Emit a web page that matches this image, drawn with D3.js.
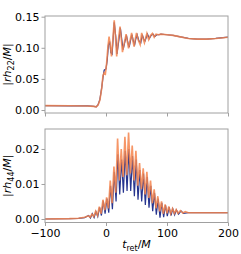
<!DOCTYPE html>
<html>
<head>
<meta charset="utf-8">
<script src="https://cdn.jsdelivr.net/npm/d3@7"></script>
<style>
  body { margin: 0; background: #fff; }
  text { font-family: "DejaVu Sans", sans-serif; }
</style>
</head>
<body>
<div id="diagram"></div>
<script>
// x ticks shared by both panels
const xTicks = [-100, 0, 100, 200];
const yTicksTop = [0.00, 0.05, 0.10, 0.15];
const yTicksBottom = [0.00, 0.01, 0.02];

// |r h22 / M| : [t_ret/M, value]
const h22Orange = [
  [-100, 0.0070], [-60, 0.0068], [-30, 0.0065], [-20, 0.0058], [-16, 0.0050],
  [-13, 0.0080], [-10, 0.0160], [-7, 0.0350], [-5, 0.0550], [-3, 0.0600],
  [-1, 0.0580], [1, 0.0750], [3, 0.1000], [5, 0.1180], [7, 0.1050],
  [9, 0.0860], [11, 0.1100], [13.5, 0.1440], [15.5, 0.1180], [17.5, 0.0860],
  [20, 0.1100], [23, 0.1340], [25, 0.1150], [27, 0.0930], [30, 0.1080],
  [33, 0.1220], [35, 0.1100], [37, 0.0990], [39.5, 0.1120], [42, 0.1240],
  [44, 0.1120], [46, 0.1020], [48, 0.1140], [50, 0.1240], [53, 0.1120],
  [56, 0.1050], [58.5, 0.1240], [61, 0.1140], [63, 0.1080], [65, 0.1160],
  [67, 0.1230], [70, 0.1130], [73, 0.1200], [76, 0.1230], [79, 0.1170],
  [82, 0.1220], [86, 0.1210], [90, 0.1220], [100, 0.1210], [110, 0.1200],
  [120, 0.1180], [135, 0.1150], [150, 0.1140], [165, 0.1140], [180, 0.1150],
  [200, 0.1170]
];
const h22Blue = [
  [-100, 0.0070], [-60, 0.0068], [-30, 0.0065], [-20, 0.0058], [-16, 0.0052],
  [-13, 0.0085], [-10, 0.0170], [-7, 0.0360], [-5, 0.0520], [-3, 0.0640],
  [0, 0.0660], [2, 0.0800], [4, 0.1050], [6, 0.1100], [8, 0.0920],
  [10, 0.0900], [13.5, 0.1410], [16, 0.1180], [18, 0.0900], [21, 0.1120],
  [23.5, 0.1320], [26, 0.1120], [28, 0.0970], [31, 0.1100], [33.5, 0.1200],
  [36, 0.1080], [38, 0.1010], [40.5, 0.1130], [42.5, 0.1210], [45, 0.1100],
  [47, 0.1050], [49, 0.1150], [51, 0.1210], [54, 0.1110], [57, 0.1080],
  [59.5, 0.1210], [62, 0.1130], [64, 0.1110], [66, 0.1170], [68, 0.1220],
  [71, 0.1150], [74, 0.1200], [77, 0.1220], [80, 0.1180], [83, 0.1210],
  [87, 0.1210], [90, 0.1220], [100, 0.1210], [110, 0.1200], [120, 0.1180],
  [135, 0.1150], [150, 0.1140], [165, 0.1140], [180, 0.1150], [200, 0.1170]
];

// |r h44 / M|
const h44Orange = [
  [-100, 0.0000], [-60, 0.0001], [-45, 0.0002], [-35, 0.0005], [-29, 0.0009],
  [-26, 0.0005], [-23, 0.0014], [-20, 0.0007], [-17, 0.0022], [-14, 0.0010],
  [-11, 0.0035], [-8, 0.0015], [-5, 0.0055], [-2, 0.0025], [1, 0.0062],
  [4, 0.0030], [7, 0.0110], [10, 0.0045], [13, 0.0150], [16, 0.0075],
  [19, 0.0230], [22, 0.0110], [25, 0.0200], [28, 0.0120], [31, 0.0235],
  [34, 0.0125], [37, 0.0247], [40, 0.0130], [43, 0.0210], [46, 0.0110],
  [49, 0.0195], [52, 0.0095], [55, 0.0160], [58, 0.0085], [61, 0.0145],
  [64, 0.0070], [67, 0.0135], [70, 0.0060], [73, 0.0110], [76, 0.0045],
  [79, 0.0085], [82, 0.0030], [85, 0.0065], [88, 0.0022], [91, 0.0050],
  [94, 0.0015], [97, 0.0042], [100, 0.0016], [103, 0.0036], [106, 0.0015],
  [109, 0.0030], [112, 0.0016], [115, 0.0027], [118, 0.0016], [122, 0.0024],
  [126, 0.0017], [130, 0.0021], [135, 0.0018], [150, 0.0018], [200, 0.0018]
];
const h44Blue = [
  [-100, 0.0000], [-60, 0.0001], [-45, 0.0002], [-35, 0.0004], [-28.5, 0.0010],
  [-25.5, 0.0003], [-22.5, 0.0015], [-19.5, 0.0004], [-16.5, 0.0021], [-13.5, 0.0007],
  [-10.5, 0.0033], [-7.5, 0.0010], [-4.5, 0.0052], [-1.5, 0.0015], [1.5, 0.0058],
  [4.5, 0.0018], [7.5, 0.0095], [10.5, 0.0028], [13.5, 0.0135], [16.5, 0.0050],
  [19.5, 0.0185], [22.5, 0.0070], [25.5, 0.0170], [28.5, 0.0075], [31.5, 0.0195],
  [34.5, 0.0080], [37.5, 0.0200], [40.5, 0.0080], [43.5, 0.0180], [46.5, 0.0065],
  [49.5, 0.0170], [52.5, 0.0055], [55.5, 0.0140], [58.5, 0.0050], [61.5, 0.0130],
  [64.5, 0.0040], [67.5, 0.0120], [70.5, 0.0032], [73.5, 0.0095], [76.5, 0.0022],
  [79.5, 0.0075], [82.5, 0.0012], [85.5, 0.0058], [88.5, 0.0004], [91.5, 0.0046],
  [94.5, 0.0005], [97.5, 0.0040], [100.5, 0.0008], [103.5, 0.0034], [106.5, 0.0010],
  [109.5, 0.0029], [112.5, 0.0012], [115.5, 0.0026], [119, 0.0014], [123, 0.0023],
  [127, 0.0016], [135, 0.0018], [150, 0.0018], [200, 0.0018]
];

const blue = "#27358f";
const orange = "#f4844c";
const spine = "#a0a0a0";

var svg = d3.select("#diagram").append("svg")
  .attr("width", 241)
  .attr("height", 254);

var x = d3.scaleLinear()
  .domain([-100, 200])
  .range([45, 228]);

function panel(yDomain, yRange, ticks, fmt, blueData, orangeData, showX, labelSub) {
  var y = d3.scaleLinear().domain(yDomain).range(yRange);
  var g = svg.append("g");

  var line = d3.line()
    .x(function(d) { return x(d[0]); })
    .y(function(d) { return y(d[1]); });

  g.append("path")
    .datum(blueData)
    .attr("fill", "none")
    .attr("stroke", blue)
    .attr("stroke-width", 1.2)
    .attr("d", line);

  g.append("path")
    .datum(orangeData)
    .attr("fill", "none")
    .attr("stroke", orange)
    .attr("stroke-opacity", 0.85)
    .attr("stroke-width", 1.6)
    .attr("d", line);

  // frame
  g.append("rect")
    .attr("x", 45).attr("y", yRange[1])
    .attr("width", 183).attr("height", yRange[0] - yRange[1])
    .attr("fill", "none")
    .attr("stroke", spine)
    .attr("stroke-width", 1);

  var ax = g.append("g")
    .attr("transform", "translate(45,0)")
    .call(d3.axisLeft(y).tickValues(ticks).tickFormat(d3.format(fmt)).tickSize(3.5).tickPadding(2));
  ax.select(".domain").remove();
  ax.selectAll("line").attr("stroke", spine);
  ax.selectAll("text").attr("font-size", 11).attr("fill", "#000")
    .attr("font-family", "DejaVu Sans");

  var bx = g.append("g")
    .attr("transform", "translate(0," + yRange[0] + ")")
    .call(d3.axisBottom(x).tickValues(xTicks).tickSize(3.5).tickPadding(3)
      .tickFormat(showX ? function(d) { return d < 0 ? "\u2212" + Math.abs(d) : d; } : ""));
  bx.select(".domain").remove();
  bx.selectAll("line").attr("stroke", spine);
  bx.selectAll("text").attr("font-size", 11).attr("fill", "#000")
    .attr("font-family", "DejaVu Sans");

  // y label  |r h_sub / M|
  var cy = (yRange[0] + yRange[1]) / 2;
  var lab = g.append("text")
    .attr("transform", "translate(11," + cy + ") rotate(-90)")
    .attr("text-anchor", "middle")
    .attr("font-size", 11)
    .attr("fill", "#000");
  lab.append("tspan").text("|");
  lab.append("tspan").attr("font-style", "italic").text("rh");
  lab.append("tspan").attr("font-size", 8).attr("dy", 3).text(labelSub);
  lab.append("tspan").attr("dy", -3).text("/");
  lab.append("tspan").attr("font-style", "italic").text("M");
  lab.append("tspan").text("|");
}

panel([-0.0048, 0.1511], [113, 16], yTicksTop, ".2f", h22Blue, h22Orange, false, "22");
panel([-0.001, 0.0257], [222.5, 129], yTicksBottom, ".2f", h44Blue, h44Orange, true, "44");

// x label  t_ret / M
var xl = svg.append("text")
  .attr("x", 136.5).attr("y", 248)
  .attr("text-anchor", "middle")
  .attr("font-size", 11)
  .attr("fill", "#000");
xl.append("tspan").attr("font-style", "italic").text("t");
xl.append("tspan").attr("font-size", 8).attr("dy", 2.5).text("ret");
xl.append("tspan").attr("dy", -2.5).text("/");
xl.append("tspan").attr("font-style", "italic").text("M");
</script>
</body>
</html>
